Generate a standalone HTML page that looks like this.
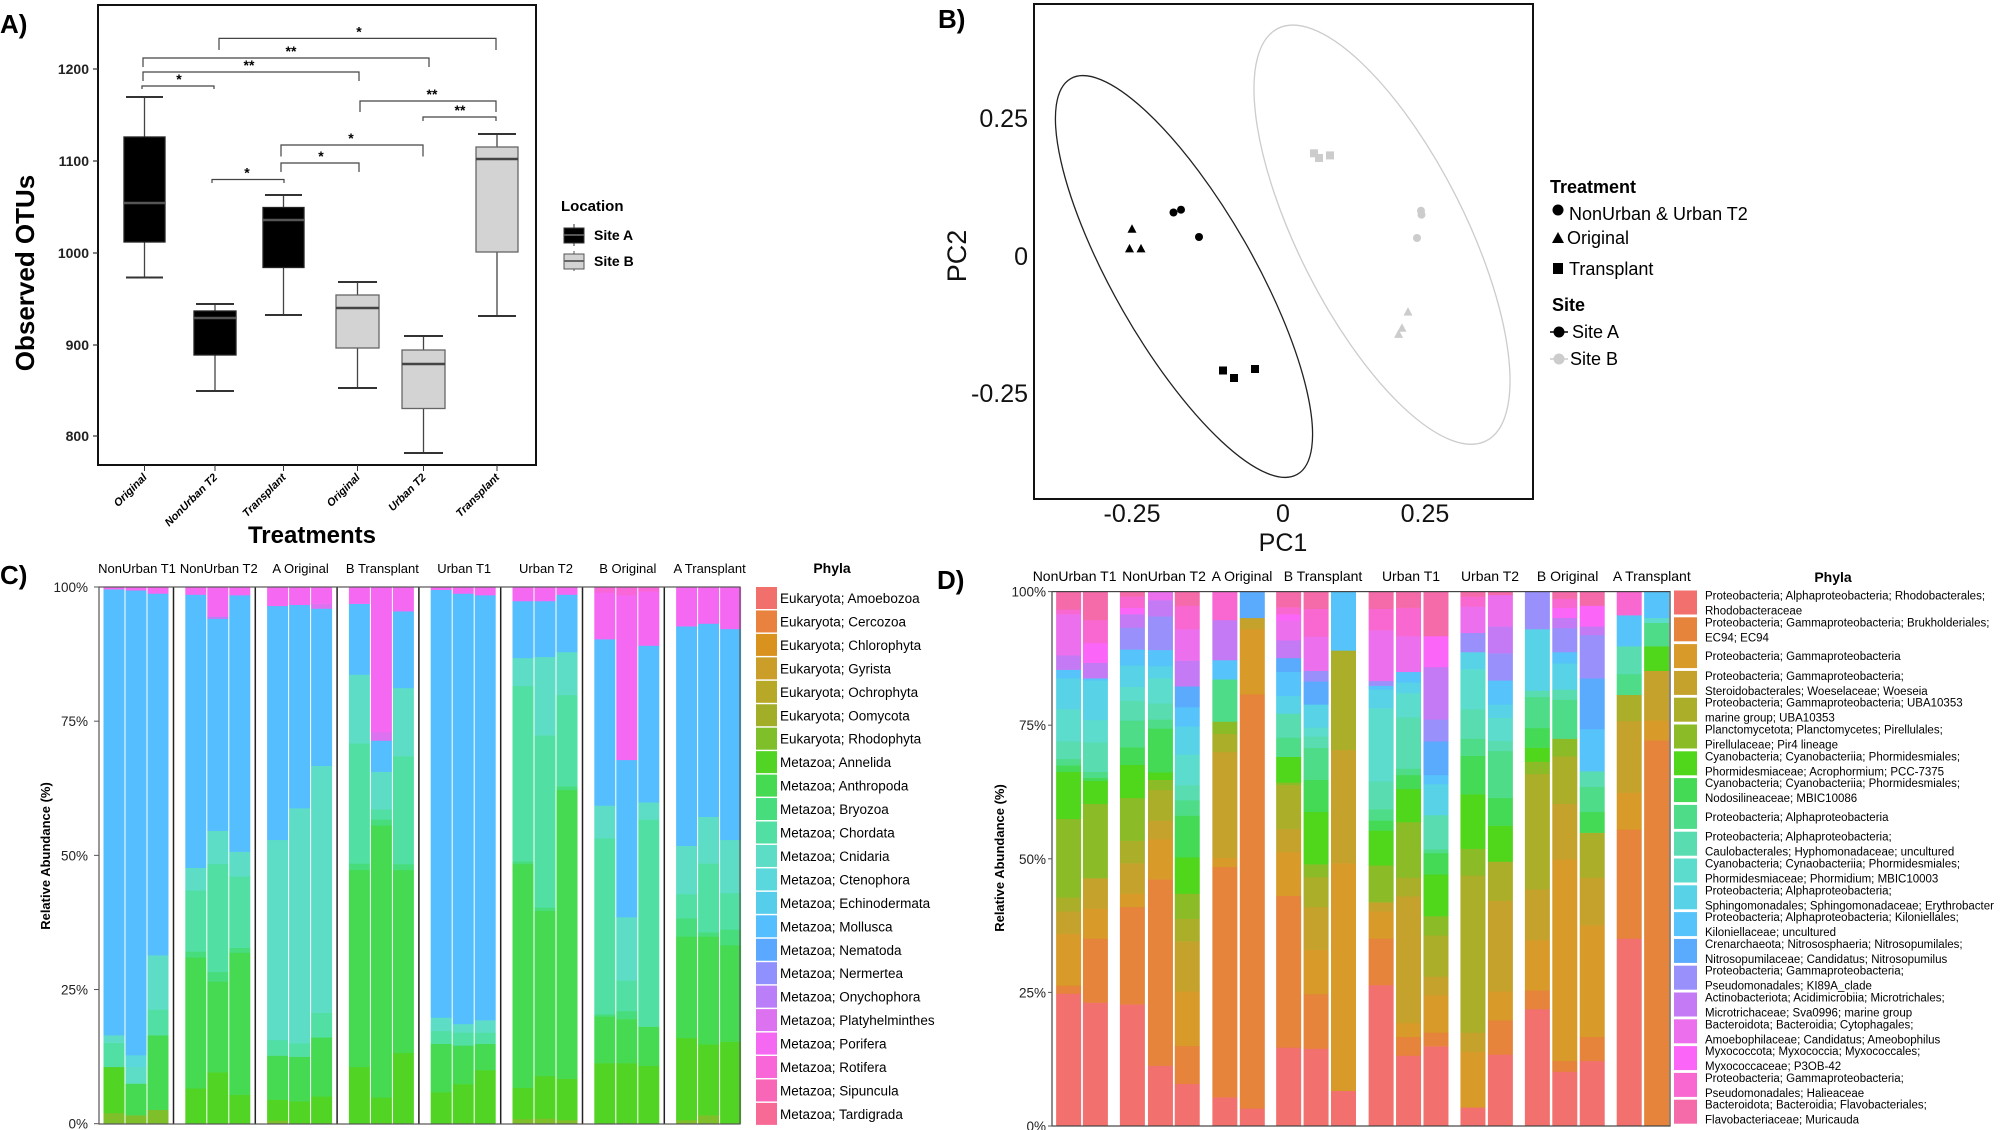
<!DOCTYPE html>
<html><head><meta charset="utf-8"><style>
html,body{margin:0;padding:0;background:#fff;}
svg{display:block;font-family:"Liberation Sans",sans-serif;}
</style></head><body>
<svg id="s" width="2000" height="1130" viewBox="0 0 2000 1130" xmlns="http://www.w3.org/2000/svg">
<rect width="2000" height="1130" fill="#fff"/>
<!-- Panel A -->
<text x="0" y="33" font-size="26" font-weight="bold">A)</text>
<rect x="98" y="5" width="438" height="460" fill="none" stroke="#111" stroke-width="2"/>
<g font-size="14" font-weight="bold" text-anchor="end" fill="#222">
<text x="89" y="74">1200</text><text x="89" y="166">1100</text><text x="89" y="258">1000</text><text x="89" y="350">900</text><text x="89" y="441">800</text>
</g>
<g stroke="#333" stroke-width="1.2"><line x1="93" y1="69" x2="98" y2="69"/><line x1="93" y1="161" x2="98" y2="161"/><line x1="93" y1="253" x2="98" y2="253"/><line x1="93" y1="345" x2="98" y2="345"/><line x1="93" y1="436" x2="98" y2="436"/></g>
<text transform="translate(34,273) rotate(-90)" font-size="26" font-weight="bold" text-anchor="middle">Observed OTUs</text>
<text x="312" y="543" font-size="24" font-weight="bold" text-anchor="middle">Treatments</text>
<g id="boxes"></g>
<g id="brk" stroke="#444" stroke-width="1.2" fill="none"></g>
<g id="xl" font-size="11" font-weight="bold" font-style="italic" text-anchor="end"></g>
<text x="561" y="211" font-size="15" font-weight="bold">Location</text>
<line x1="574" y1="224" x2="574" y2="246" stroke="#333"/><rect x="564" y="228" width="20" height="15" fill="#000" stroke="#333"/><line x1="564" y1="235" x2="584" y2="235" stroke="#555" stroke-width="2"/>
<text x="594" y="240" font-size="14" font-weight="bold">Site A</text>
<line x1="574" y1="251" x2="574" y2="271" stroke="#555"/><rect x="564" y="254" width="20" height="15" fill="#d3d3d3" stroke="#555"/><line x1="564" y1="261" x2="584" y2="261" stroke="#666" stroke-width="2"/>
<text x="594" y="266" font-size="14" font-weight="bold">Site B</text>
<!-- Panel B -->
<text x="938" y="28" font-size="26" font-weight="bold">B)</text>
<rect x="1034" y="4" width="499" height="495" fill="none" stroke="#111" stroke-width="2"/>
<g font-size="25" fill="#111" text-anchor="end"><text x="1028" y="127">0.25</text><text x="1028" y="265">0</text><text x="1028" y="402">-0.25</text></g>
<g font-size="25" fill="#111" text-anchor="middle"><text x="1132" y="522">-0.25</text><text x="1283" y="522">0</text><text x="1425" y="522">0.25</text><text x="1283" y="551">PC1</text></g>
<text transform="translate(966,256) rotate(-90)" font-size="27" text-anchor="middle" fill="#111">PC2</text>
<ellipse cx="1184" cy="276.5" rx="70" ry="228" transform="rotate(-29.8 1184 276.5)" fill="none" stroke="#222" stroke-width="1.3"/>
<ellipse cx="1382" cy="234.7" rx="83.4" ry="231" transform="rotate(-26.8 1382 234.7)" fill="none" stroke="#ccc" stroke-width="1.3"/>
<g id="pts"></g>
<text x="1550" y="193" font-size="18" font-weight="bold">Treatment</text>
<circle cx="1558" cy="210" r="5.5"/><text x="1569" y="220" font-size="18">NonUrban &amp; Urban T2</text>
<polygon points="1552,243 1558,232 1564,243"/><text x="1567" y="244" font-size="18">Original</text>
<rect x="1553" y="263" width="10" height="11"/><text x="1569" y="275" font-size="18">Transplant</text>
<text x="1552" y="311" font-size="18" font-weight="bold">Site</text>
<line x1="1550" y1="332" x2="1568" y2="332" stroke="#000" stroke-width="1.5"/><circle cx="1559" cy="332" r="5.5"/><text x="1572" y="338" font-size="18">Site A</text>
<line x1="1550" y1="359" x2="1568" y2="359" stroke="#ccc" stroke-width="1.5"/><circle cx="1559" cy="359" r="5.5" fill="#ccc"/><text x="1570" y="365" font-size="18">Site B</text>
<!-- Panel C -->
<text x="0" y="584" font-size="26" font-weight="bold">C)</text>
<g id="cbars"></g>
<rect x="99" y="587" width="641" height="537" fill="none" stroke="#555" stroke-width="1.2"/>
<g id="cax" font-size="13.5" fill="#222" text-anchor="end"></g>
<text transform="translate(50,856) rotate(-90)" font-size="13" font-weight="bold" text-anchor="middle">Relative Abundance (%)</text>
<g id="cgl" font-size="13" text-anchor="middle"></g>
<text x="832" y="573" font-size="14" font-weight="bold" text-anchor="middle">Phyla</text>
<g id="cleg" font-size="13.5"></g>
<!-- Panel D -->
<text x="937" y="589" font-size="26" font-weight="bold">D)</text>
<g id="dbars"></g>
<rect x="1052" y="591.6" width="618" height="534.4" fill="none" stroke="#444" stroke-width="1.2"/>
<g id="dax" font-size="13.5" fill="#222" text-anchor="end"></g>
<text transform="translate(1004,858) rotate(-90)" font-size="13" font-weight="bold" text-anchor="middle">Relative Abundance (%)</text>
<g id="dgl" font-size="14" text-anchor="middle"></g>
<text x="1833" y="582" font-size="14" font-weight="bold" text-anchor="middle">Phyla</text>
<g id="dleg" font-size="11.5"></g>
</svg>
<script>
var NS="http://www.w3.org/2000/svg";
function el(p,t,a,txt){var e=document.createElementNS(NS,t);for(var k in a)e.setAttribute(k,a[k]);if(txt!=null)e.textContent=txt;document.getElementById(p).appendChild(e);return e;}
var B=[[124,165,97,137,203,242,277.5,0],[194,236,304,311,318,355,391,0],[263,304,195,207.5,220,267.5,315,0],[336,379,282,295,308,348,388,1],[402,445,336,350,364,408.5,453,1],[476,518,134,147,159,252,316,1]];
B.forEach(function(b){var c=(b[0]+b[1])/2,fill=b[7]?"#d3d3d3":"#000",st=b[7]?"#666":"#222";
el("boxes","line",{x1:c,y1:b[2],x2:c,y2:b[6],stroke:"#444","stroke-width":1.3});
el("boxes","line",{x1:b[0]+2,y1:b[2],x2:b[1]-2,y2:b[2],stroke:"#333","stroke-width":2});
el("boxes","line",{x1:b[0]+2,y1:b[6],x2:b[1]-2,y2:b[6],stroke:"#333","stroke-width":2});
el("boxes","rect",{x:b[0],y:b[3],width:b[1]-b[0],height:b[5]-b[3],fill:fill,stroke:st,"stroke-width":1.3});
el("boxes","line",{x1:b[0],y1:b[4],x2:b[1],y2:b[4],stroke:b[7]?"#444":"#555","stroke-width":2.5});
el("boxes","line",{x1:c,y1:465,x2:c,y2:471,stroke:"#333"});});
var BR=[[219,496,38.4,50,359,"*"],[143,429,58,67,291,"**"],[143,359,72,81,249,"**"],[142,214,86,89,179,"*"],[360,496,101,112,432,"**"],[423,496,117,121,460,"**"],[281,423,145,156.5,351,"*"],[281,359,163,172,321,"*"],[212,284,179.5,183,247,"*"]];
BR.forEach(function(r){el("brk","path",{d:"M"+r[0]+" "+r[3]+"V"+r[2]+"H"+r[1]+"V"+r[3]});
el("boxes","text",{x:r[4],y:r[2]-2,"font-size":14,"font-weight":"bold","text-anchor":"middle"},r[5]);});
var XL=["Original","NonUrban T2","Transplant","Original","Urban T2","Transplant"];
B.forEach(function(b,i){var c=(b[0]+b[1])/2+3;el("xl","text",{transform:"translate("+c+",478) rotate(-45)"},XL[i]);});
function mk(x,y,s,col){if(s==0)el("pts","circle",{cx:x,cy:y,r:4,fill:col});else if(s==1)el("pts","polygon",{points:(x-4.5)+","+(y+4)+" "+x+","+(y-4.5)+" "+(x+4.5)+","+(y+4),fill:col});else el("pts","rect",{x:x-4,y:y-4,width:8,height:8,fill:col});}
[[1173.5,212.5,0],[1181,209.7,0],[1199,237,0],[1132,228.7,1],[1129.5,248.4,1],[1141,248.4,1],[1223,370.5,2],[1234,378,2],[1255,369,2]].forEach(function(p){mk(p[0],p[1],p[2],"#000");});
[[1314,153.3,2],[1319,158,2],[1330,155.4,2],[1421,210.7,0],[1421.5,214.7,0],[1417,238,0],[1408,311.6,1],[1402,327.8,1],[1398.6,333.9,1]].forEach(function(p){mk(p[0],p[1],p[2],"#ccc");});
var CC=["#F2706C","#E8823E","#DA921E","#CB9E2A","#B7A828","#A2AE28","#7EBF2A","#52D424","#45DA52","#47DD7C","#52DFA4","#5EDDC6","#5AD8DC","#56CDEB","#55BEFF","#5AA8FF","#9190FF","#B97EF8","#DC72F0","#F569F2","#F866D8","#F866B8","#F86A96"];
var CN=["Eukaryota; Amoebozoa","Eukaryota; Cercozoa","Eukaryota; Chlorophyta","Eukaryota; Gyrista","Eukaryota; Ochrophyta","Eukaryota; Oomycota","Eukaryota; Rhodophyta","Metazoa; Annelida","Metazoa; Anthropoda","Metazoa; Bryozoa","Metazoa; Chordata","Metazoa; Cnidaria","Metazoa; Ctenophora","Metazoa; Echinodermata","Metazoa; Mollusca","Metazoa; Nematoda","Metazoa; Nermertea","Metazoa; Onychophora","Metazoa; Platyhelminthes","Metazoa; Porifera","Metazoa; Rotifera","Metazoa; Sipuncula","Metazoa; Tardigrada"];
var CD=[
[[6,2],[7,10.6],[10,15.1],[11,16.5],[14,99.6],[19,100]],[[6,1.6],[8,7.5],[11,10.6],[12,12.8],[14,99.4],[19,100]],[[6,2.6],[8,16.5],[10,21.3],[11,31.4],[14,98.8],[19,100]],
[[7,6.6],[8,31],[9,32.1],[10,43.5],[11,47.7],[14,98.6],[19,100]],[[7,9.6],[8,26.5],[9,28.3],[10,48.4],[11,54.6],[14,94.1],[17,94.5],[19,100]],[[7,5.4],[8,31.9],[9,32.8],[10,46.1],[11,50.7],[14,98.5],[19,100]],
[[6,0.6],[7,4.5],[8,12.7],[10,15.6],[11,52.9],[14,96.5],[19,100]],[[7,4.2],[8,12.5],[10,15],[11,58.8],[14,96.7],[19,100]],[[7,5.1],[8,16.1],[10,20.7],[11,66.7],[14,96],[18,96.9],[19,100]],
[[7,10.6],[8,47.3],[9,48.5],[10,70.9],[11,83.7],[14,96.9],[19,100]],[[7,4.9],[8,55.6],[9,56.7],[10,58.6],[11,65.6],[14,71.4],[18,73],[19,100]],[[7,13.2],[8,47.3],[9,48.4],[10,68.5],[11,81.2],[14,95.5],[19,100]],
[[7,5.9],[8,14.9],[10,17.3],[11,19.8],[14,99.5],[19,100]],[[7,7.4],[8,14.6],[10,17],[11,18.6],[14,98.8],[19,100]],[[7,10],[8,14.9],[10,17],[11,19.3],[14,98.5],[19,100]],
[[6,0.9],[7,6.7],[8,48.4],[9,48.9],[10,81.6],[11,86.8],[14,97.4],[19,100]],[[6,1],[7,8.9],[8,39.7],[9,40.3],[10,72.4],[11,87],[14,97.4],[19,100]],[[6,0.7],[7,8.4],[8,62.2],[9,62.9],[10,79.9],[11,87.9],[14,98.6],[19,100]],
[[7,11.3],[8,20],[9,20.4],[10,53.2],[11,59.3],[14,90.3],[19,99],[20,100]],[[7,11.3],[8,19.5],[9,21],[10,26.7],[11,38.5],[14,67.8],[19,98.5],[20,100]],[[7,10.8],[8,18.1],[10,56.7],[11,59.9],[14,89.1],[19,99.2],[20,100]],
[[6,0.7],[7,16],[8,34.9],[9,38.3],[10,42.8],[11,51.8],[14,92.7],[19,100]],[[6,1.6],[7,14.8],[8,34.9],[9,35.7],[10,48.5],[11,57.2],[14,93.2],[19,100]],[[7,15.3],[8,33.3],[9,36.2],[10,43],[11,52.9],[14,92.2],[19,100]]];
var cy0=1123.7,ch=536.7;
CD.forEach(function(bar,i){var g=Math.floor(i/3),k=i%3,x=103.5+81.8*g+22*k,prev=0;
bar.forEach(function(s){var y1=cy0-ch*s[1]/100,y2=cy0-ch*prev/100;el("cbars","rect",{x:x,y:y1,width:21,height:y2-y1+0.3,fill:CC[s[0]]});prev=s[1];});});
for(var g=0;g<7;g++){var sx=173.5+81.8*g;el("cbars","line",{x1:sx,y1:587,x2:sx,y2:1124,stroke:"#222","stroke-width":1.5});}
[0,25,50,75,100].forEach(function(v){var y=cy0-ch*v/100;el("cax","text",{x:88,y:y+5},v+"%");el("cax","line",{x1:94,y1:y,x2:99,y2:y,stroke:"#555"});});
["NonUrban T1","NonUrban T2","A Original","B Transplant","Urban T1","Urban T2","B Original","A Transplant"].forEach(function(t,g){el("cgl","text",{x:137+81.8*g,y:573},t);});
CN.forEach(function(n,i){var y=598+23.45*i;el("cleg","rect",{x:756,y:y-11,width:21,height:22,fill:CC[i]});el("cleg","text",{x:780,y:y+5},n);});
var DC=["#F2716F","#E5843A","#D89A28","#C4A22C","#ABAE28","#8CBB28","#50D61A","#45DA55","#4EDC88","#58DCB0","#5CDCCC","#58D2E6","#56C4FA","#5AAAFE","#9A90FC","#C47AF4","#EC70EE","#FC66F8","#F868D0","#F56AA8"];
var DD=[
[[1,24.8],[2,26.3],[3,36],[4,40.2],[5,42.8],[6,57.5],[7,66.3],[8,67.5],[9,68.7],[10,72],[11,78],[12,83.8],[13,85.4],[16,88.1],[17,95.8],[19,96.7],[20,100]],
[[1,23.1],[2,35.1],[3,40.7],[4,46.4],[6,60.3],[7,64.6],[8,65.2],[9,66.3],[10,71.8],[11,76],[12,83.4],[13,83.8],[16,86.7],[18,90.4],[19,94.7],[20,100]],
[[1,22.8],[2,41],[3,43.5],[4,49.2],[5,53.4],[6,61.4],[7,67.6],[8,70.9],[9,75.9],[10,79.6],[11,82.2],[12,86.2],[13,89.2],[15,93.3],[16,95.8],[18,97],[19,99.1],[20,100]],
[[1,11.3],[2,46.2],[3,53.7],[4,57.2],[5,62.9],[6,64.8],[7,66.2],[8,74.4],[9,76.1],[10,79.1],[11,83.8],[12,86.1],[13,89.1],[15,95.4],[16,98.4],[17,100]],
[[1,7.9],[2,15],[3,25.2],[4,34.6],[5,38.8],[6,43.5],[7,50.3],[8,58.1],[9,61],[10,63.8],[11,69.5],[12,74.8],[13,78.4],[14,82.3],[16,87.1],[17,93],[19,97.4],[20,100]],
[[1,5.4],[2,48.5],[3,50.2],[4,70],[5,73.4],[6,75.7],[9,83.6],[13,87.2],[16,94.7],[19,100]],
[[1,3.3],[2,80.8],[3,93],[4,95.1],[14,100]],
[[1,14.7],[2,43.1],[3,51.3],[4,55.6],[5,63.8],[6,64.3],[7,69.1],[9,72.7],[10,77.2],[12,80.5],[13,85],[14,87.6],[16,90.9],[17,94.6],[18,95.8],[19,97.1],[20,100]],
[[1,14.5],[2,24.7],[3,33],[4,41],[5,46.6],[6,49],[7,58.8],[8,64.8],[9,70.8],[10,72.9],[11,74.6],[12,78.9],[14,83.2],[15,85.2],[17,91.6],[19,96.8],[20,100]],
[[1,6.6],[3,49.2],[4,70.4],[5,89],[13,100]],
[[1,26.4],[2,35.1],[3,40.2],[4,41.9],[6,48.8],[7,55.3],[8,57.2],[9,59.3],[10,64.5],[11,78.2],[12,81.7],[13,82.4],[15,83.3],[17,92.8],[19,96.8],[20,100]],
[[1,13.2],[2,16.7],[3,19.3],[4,43],[5,46.5],[6,56.9],[7,63.1],[8,65.7],[9,66.9],[10,76.5],[11,81],[12,83],[13,85],[17,91.7],[19,97],[20,100]],
[[1,14.95],[2,17.5],[3,24.5],[4,28],[5,35.7],[6,39.3],[7,47.1],[8,51.1],[9,51.8],[10,58.2],[12,64],[13,65.7],[14,72],[15,76.1],[16,85.9],[18,91.7],[20,100]],
[[1,3.5],[3,13.9],[4,17.5],[5,46.9],[6,51.9],[7,62.1],[8,69.3],[9,72.5],[10,78],[11,85.5],[12,88.7],[15,92.3],[17,97.2],[19,99.1],[20,100]],
[[1,13.4],[2,19.8],[3,25.2],[4,42.2],[5,49.5],[7,56.2],[8,61.4],[9,70.2],[10,72.1],[11,76.4],[12,78.9],[13,83.4],[15,88.5],[16,93.5],[17,99.4],[20,100]],
[[1,21.9],[2,25.4],[3,34.8],[4,44.3],[5,65.9],[6,68.2],[7,70.8],[8,74.5],[9,80.3],[10,81.5],[12,93],[15,100]],
[[1,10.2],[2,12.2],[3,49.9],[4,60.3],[5,69.2],[6,72.5],[9,79.8],[10,81.7],[12,86.6],[13,88.7],[15,93.2],[16,95.1],[18,97],[19,98.7],[20,100]],
[[1,12.2],[2,16.7],[3,37.6],[4,46.5],[5,54.9],[8,58.8],[9,63.5],[10,66.4],[13,74.3],[14,83.8],[15,91.9],[16,93.5],[18,97.4],[20,100]],
[[1,35.1],[2,55.5],[3,62.4],[4,75.8],[5,80.7],[9,84.6],[10,89.8],[13,95.6],[19,100]],
[[2,72.2],[3,75.9],[4,85.2],[7,89.8],[9,94.2],[11,95.1],[13,100]]];
var DX=[88,130,188,232,274,333,376,433,476,519,578,621,664,722,765,823,866,909,967,1010];
var dy0=1126,dh=534.4;
DD.forEach(function(bar,i){var x=1000+DX[i]/1.568,prev=0;bar.forEach(function(s){var y1=dy0-dh*s[1]/100,y2=dy0-dh*prev/100;el("dbars","rect",{x:x,y:y1,width:25,height:y2-y1+0.3,fill:DC[s[0]-1]});prev=s[1];});});
[0,25,50,75,100].forEach(function(v){var y=dy0-dh*v/100;el("dax","text",{x:1046,y:y+5},v+"%");el("dax","line",{x1:1048,y1:y,x2:1052,y2:y,stroke:"#555"});});
[["NonUrban T1",1074.6],["NonUrban T2",1164],["A Original",1242],["B Transplant",1323],["Urban T1",1411],["Urban T2",1490],["B Original",1567.6],["A Transplant",1651.8]].forEach(function(t){el("dgl","text",{x:t[1],y:581},t[0]);});
var DN=[["Proteobacteria; Alphaproteobacteria; Rhodobacterales;","Rhodobacteraceae"],["Proteobacteria; Gammaproteobacteria; Brukholderiales;","EC94; EC94"],["Proteobacteria; Gammaproteobacteria"],["Proteobacteria; Gammaproteobacteria;","Steroidobacterales; Woeselaceae; Woeseia"],["Proteobacteria; Gammaproteobacteria; UBA10353","marine group; UBA10353"],["Planctomycetota; Planctomycetes; Pirellulales;","Pirellulaceae; Pir4 lineage"],["Cyanobacteria; Cyanobacteriia; Phormidesmiales;","Phormidesmiaceae; Acrophormium; PCC-7375"],["Cyanobacteria; Cyanobacteriia; Phormidesmiales;","Nodosilineaceae; MBIC10086"],["Proteobacteria; Alphaproteobacteria"],["Proteobacteria; Alphaproteobacteria;","Caulobacterales; Hyphomonadaceae; uncultured"],["Cyanobacteria; Cynaobacteriia; Phormidesmiales;","Phormidesmiaceae; Phormidium; MBIC10003"],["Proteobacteria; Alphaproteobacteria;","Sphingomonadales; Sphingomonadaceae; Erythrobacter"],["Proteobacteria; Alphaproteobacteria; Kiloniellales;","Kiloniellaceae; uncultured"],["Crenarchaeota; Nitrososphaeria; Nitrosopumilales;","Nitrosopumilaceae; Candidatus; Nitrosopumilus"],["Proteobacteria; Gammaproteobacteria;","Pseudomonadales; KI89A_clade"],["Actinobacteriota; Acidimicrobiia; Microtrichales;","Microtrichaceae; Sva0996; marine group"],["Bacteroidota; Bacteroidia; Cytophagales;","Amoebophilaceae; Candidatus; Ameobophilus"],["Myxococcota; Myxococcia; Myxococcales;","Myxococcaceae; P3OB-42"],["Proteobacteria; Gammaproteobacteria;","Pseudomonadales; Halieaceae"],["Bacteroidota; Bacteroidia; Flavobacteriales;","Flavobacteriaceae; Muricauda"]];
DN.forEach(function(n,i){var y=602.5+26.8*i;el("dleg","rect",{x:1674,y:y-12,width:23,height:24,fill:DC[i]});
if(n.length==1)el("dleg","text",{x:1705,y:y+4},n[0]);else{el("dleg","text",{x:1705,y:y-3},n[0]);el("dleg","text",{x:1705,y:y+12},n[1]);}});
</script>
</body></html>
